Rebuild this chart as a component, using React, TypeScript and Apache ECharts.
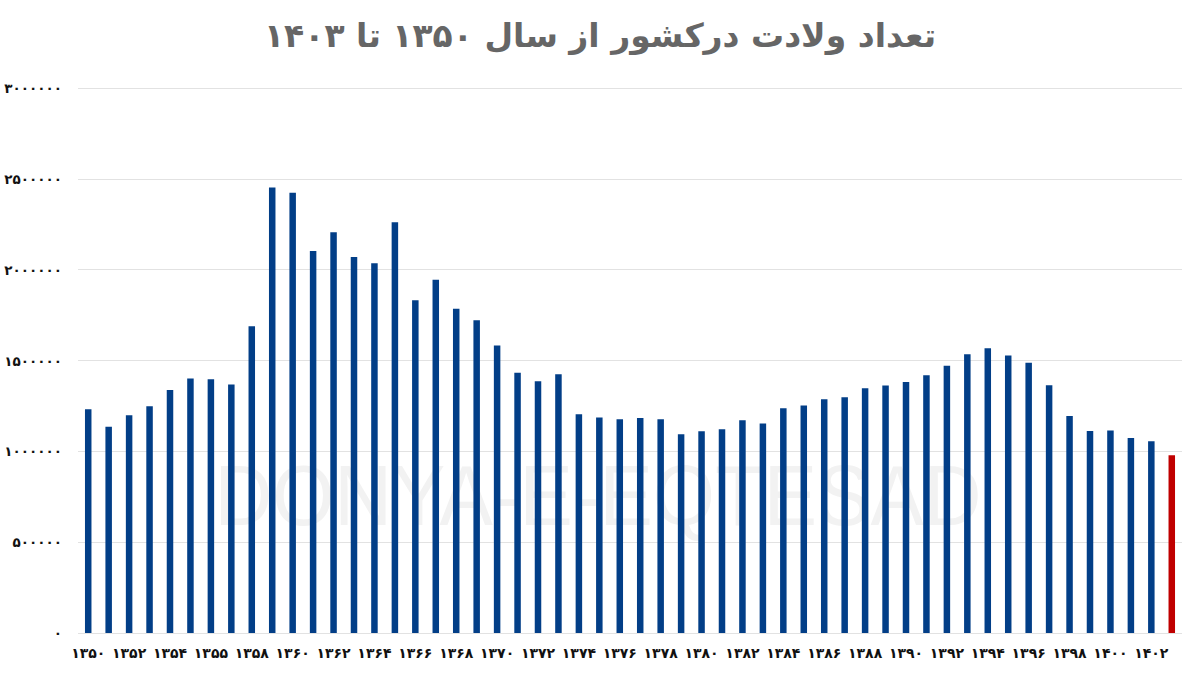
import React, { useEffect, useRef } from "react";
import * as echarts from "echarts";

const titleText = "تعداد ولادت درکشور از سال ۱۳۵۰ تا ۱۴۰۳";

const years = [
  "۱۳۵۰", "۱۳۵۱", "۱۳۵۲", "۱۳۵۳", "۱۳۵۴", "۱۳۵۵", "۱۳۵۶", "۱۳۵۷", "۱۳۵۸", "۱۳۵۹",
  "۱۳۶۰", "۱۳۶۱", "۱۳۶۲", "۱۳۶۳", "۱۳۶۴", "۱۳۶۵", "۱۳۶۶", "۱۳۶۷", "۱۳۶۸", "۱۳۶۹",
  "۱۳۷۰", "۱۳۷۱", "۱۳۷۲", "۱۳۷۳", "۱۳۷۴", "۱۳۷۵", "۱۳۷۶", "۱۳۷۷", "۱۳۷۸", "۱۳۷۹",
  "۱۳۸۰", "۱۳۸۱", "۱۳۸۲", "۱۳۸۳", "۱۳۸۴", "۱۳۸۵", "۱۳۸۶", "۱۳۸۷", "۱۳۸۸", "۱۳۸۹",
  "۱۳۹۰", "۱۳۹۱", "۱۳۹۲", "۱۳۹۳", "۱۳۹۴", "۱۳۹۵", "۱۳۹۶", "۱۳۹۷", "۱۳۹۸", "۱۳۹۹",
  "۱۴۰۰", "۱۴۰۱", "۱۴۰۲", "۱۴۰۳",
];

// labels printed under every other bar (as in the original, including its "۱۳۵۵")
const xTickLabels = [
  "۱۳۵۰", "۱۳۵۲", "۱۳۵۴", "۱۳۵۵", "۱۳۵۸", "۱۳۶۰", "۱۳۶۲", "۱۳۶۴", "۱۳۶۶",
  "۱۳۶۸", "۱۳۷۰", "۱۳۷۲", "۱۳۷۴", "۱۳۷۶", "۱۳۷۸", "۱۳۸۰", "۱۳۸۲", "۱۳۸۴",
  "۱۳۸۶", "۱۳۸۸", "۱۳۹۰", "۱۳۹۲", "۱۳۹۴", "۱۳۹۶", "۱۳۹۸", "۱۴۰۰", "۱۴۰۲",
];

const births = [
  1232000, 1136000, 1198000, 1248000, 1338000, 1401000, 1397000, 1368000, 1689000, 2452000,
  2423000, 2103000, 2206000, 2070000, 2035000, 2261000, 1831000, 1945000, 1785000, 1722000,
  1583000, 1432000, 1386000, 1425000, 1204000, 1186000, 1177000, 1184000, 1177000, 1094000,
  1110000, 1121000, 1171000, 1153000, 1237000, 1252000, 1287000, 1298000, 1347000, 1362000,
  1381000, 1419000, 1471000, 1535000, 1568000, 1528000, 1487000, 1364000, 1195000, 1112000,
  1114000, 1074000, 1055000, 978000,
];

const yTickLabels = ["۰", "۵۰۰۰۰۰", "۱۰۰۰۰۰۰", "۱۵۰۰۰۰۰", "۲۰۰۰۰۰۰", "۲۵۰۰۰۰۰", "۳۰۰۰۰۰۰"];

const BLUE = "#023e87";
const RED = "#c00000";

export default function App() {
  const ref = useRef<HTMLDivElement>(null);
  useEffect(() => {
    if (!ref.current) return;
    const chart = echarts.init(ref.current, null, { renderer: "svg" });
    const last = births.length - 1;
    chart.setOption({
      animation: false,
      backgroundColor: "#ffffff",
      title: {
        text: titleText,
        left: "center",
        top: 14,
        textStyle: {
          fontFamily: "DejaVu Sans",
          fontSize: 33,
          fontWeight: "bold",
          color: "#666666",
        },
      },
      graphic: [
        {
          type: "text",
          x: 598,
          y: 495,
          scaleX: 0.93,
          z: -10,
          silent: true,
          style: {
            text: "DONYA-E-EQTESAD",
            x: 0,
            y: 0,
            textAlign: "center",
            textVerticalAlign: "middle",
            align: "center",
            verticalAlign: "middle",
            fontFamily: "Liberation Sans",
            fontSize: 86,
            fill: "#f2f2f2",
          },
        },
      ],
      grid: { left: 78, right: 18, top: 88, bottom: 42, containLabel: false },
      xAxis: {
        type: "category",
        data: years,
        axisLine: { show: false },
        axisTick: { show: false },
        axisLabel: {
          interval: 1,
          margin: 13,
          fontFamily: "DejaVu Sans",
          fontWeight: "bold",
          fontSize: 14,
          color: "#111111",
          formatter: (_v: string, i: number) => (i % 2 === 0 ? xTickLabels[i / 2] : ""),
        },
      },
      yAxis: {
        type: "value",
        min: 0,
        max: 3000000,
        interval: 500000,
        axisLine: { show: false },
        axisTick: { show: false },
        splitLine: { lineStyle: { color: "#e2e2e2", width: 1 } },
        axisLabel: {
          margin: 16,
          fontFamily: "DejaVu Sans",
          fontWeight: "bold",
          fontSize: 13.5,
          color: "#111111",
          formatter: (v: number) => yTickLabels[Math.round(v / 500000)],
        },
      },
      series: [
        {
          type: "bar",
          barWidth: 6.5,
          itemStyle: { color: BLUE },
          data: births.map((v, i) =>
            i === last ? { value: v, itemStyle: { color: RED } } : v
          ),
        },
      ],
    });
    return () => chart.dispose();
  }, []);
  return (
    <div
      ref={ref}
      style={{ position: "fixed", left: 0, top: 0, width: 1200, height: 675, background: "#fff" }}
    />
  );
}
